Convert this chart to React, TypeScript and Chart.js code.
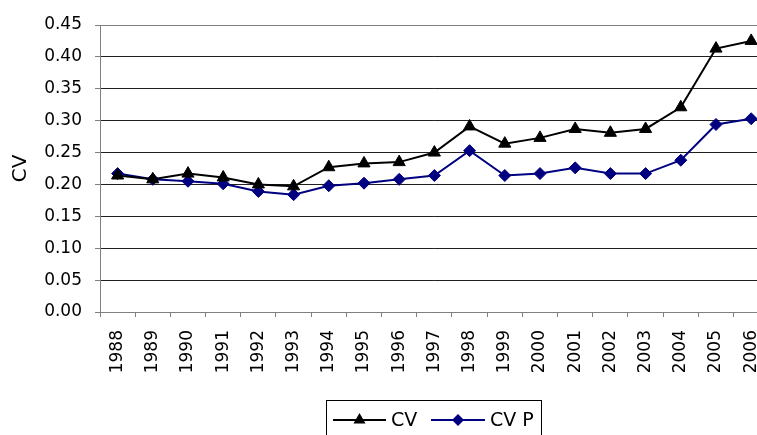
import React, { useEffect, useRef } from "react";
import { Chart, registerables } from "chart.js";

Chart.register(...registerables);

const years = [
  "1988", "1989", "1990", "1991", "1992", "1993", "1994", "1995", "1996", "1997",
  "1998", "1999", "2000", "2001", "2002", "2003", "2004", "2005", "2006",
];
const cvValues = [
  0.214, 0.208, 0.217, 0.211, 0.2, 0.197, 0.227, 0.233, 0.235, 0.25,
  0.291, 0.264, 0.273, 0.287, 0.281, 0.287, 0.321, 0.413, 0.425,
];
const cvpValues = [
  0.217, 0.208, 0.205, 0.201, 0.189, 0.184, 0.198, 0.202, 0.208, 0.214,
  0.253, 0.214, 0.217, 0.226, 0.217, 0.217, 0.238, 0.294, 0.303,
];
const seriesLabels = ["CV", "CV P"];
const yMin = 0;
const yMax = 0.45;
const yStep = 0.05;
const yTitle = "CV";

const FONT = "'DejaVu Sans', sans-serif";

function drawMarker(ctx: CanvasRenderingContext2D, style: string, x: number, y: number, r: number) {
  ctx.beginPath();
  if (style === "triangle") {
    ctx.moveTo(x, y - r);
    ctx.lineTo(x + r * 0.866, y + r / 2);
    ctx.lineTo(x - r * 0.866, y + r / 2);
  } else {
    ctx.moveTo(x - r, y);
    ctx.lineTo(x, y - r);
    ctx.lineTo(x + r, y);
    ctx.lineTo(x, y + r);
  }
  ctx.closePath();
  ctx.fill();
}

const boxLegend = {
  id: "boxLegend",
  afterDraw(chart: any) {
    const ctx: CanvasRenderingContext2D = chart.ctx;
    ctx.save();
    ctx.fillStyle = "#ffffff";
    ctx.fillRect(326.5, 400.5, 215, 40);
    ctx.strokeStyle = "#000000";
    ctx.lineWidth = 1;
    ctx.strokeRect(326.5, 400.5, 215, 40);
    const items = [
      { x0: 333, x1: 386, tx: 391 },
      { x0: 431, x1: 485, tx: 490 },
    ];
    const y = 420;
    chart.data.datasets.forEach((ds: any, i: number) => {
      const it = items[i];
      ctx.strokeStyle = ds.borderColor;
      ctx.lineWidth = 2;
      ctx.beginPath();
      ctx.moveTo(it.x0, y);
      ctx.lineTo(it.x1, y);
      ctx.stroke();
      ctx.fillStyle = ds.pointBackgroundColor;
      drawMarker(ctx, ds.pointStyle, (it.x0 + it.x1) / 2, y, ds.pointRadius);
      ctx.fillStyle = "#000000";
      ctx.font = `19px ${FONT}`;
      ctx.textBaseline = "middle";
      ctx.textAlign = "left";
      ctx.fillText(ds.label, it.tx, y + 1);
    });
    ctx.restore();
  },
};

export default function App() {
  const ref = useRef<HTMLCanvasElement | null>(null);

  useEffect(() => {
    if (!ref.current) return;
    const chart = new Chart(ref.current, {
      type: "line",
      data: {
        labels: years,
        datasets: [
          {
            label: seriesLabels[0],
            data: cvValues,
            borderColor: "#000000",
            borderWidth: 2,
            pointStyle: "triangle",
            pointRadius: 7,
            pointBackgroundColor: "#000000",
            pointBorderColor: "#000000",
            pointBorderWidth: 1,
            tension: 0,
          },
          {
            label: seriesLabels[1],
            data: cvpValues,
            borderColor: "#000080",
            borderWidth: 2,
            pointStyle: "rectRot",
            pointRadius: 6,
            pointBackgroundColor: "#000080",
            pointBorderColor: "#000080",
            pointBorderWidth: 1,
            tension: 0,
          },
        ],
      },
      options: {
        responsive: false,
        animation: false,
        devicePixelRatio: 1,
        layout: { padding: { left: 0, right: 16, top: 25, bottom: 0 } },
        plugins: {
          legend: { display: false },
          tooltip: { enabled: false },
        },
        scales: {
          x: {
            type: "category",
            offset: true,
            grid: {
              display: true,
              drawOnChartArea: false,
              drawTicks: true,
              tickLength: 5,
              color: "#808080",
              offset: true,
            },
            border: { display: true, color: "#808080", width: 1 },
            ticks: {
              autoSkip: false,
              maxRotation: 90,
              minRotation: 90,
              padding: 13,
              color: "#000000",
              font: { family: FONT, size: 17 },
            },
            afterFit: (scale: any) => {
              scale.height = 123;
            },
          },
          y: {
            min: yMin,
            max: yMax,
            grid: {
              color: (c: any) => (c.tick && Math.abs(c.tick.value - yMax) < 1e-9 ? "#808080" : "#202020"),
              tickColor: "#808080",
              tickLength: 5,
              drawTicks: true,
            },
            border: { display: true, color: "#808080", width: 1 },
            ticks: {
              stepSize: yStep,
              padding: 13,
              color: "#000000",
              font: { family: FONT, size: 17 },
              callback: (v: any) => Number(v).toFixed(2),
            },
            title: {
              display: true,
              text: yTitle,
              color: "#000000",
              font: { family: FONT, size: 20 },
              padding: { top: 9, bottom: 0 },
            },
            afterFit: (scale: any) => {
              scale.width = 100;
            },
          },
        },
      },
      plugins: [boxLegend],
    });
    return () => chart.destroy();
  }, []);

  return (
    <div
      style={{
        position: "fixed",
        left: 0,
        top: 0,
        width: 757,
        height: 435,
        overflow: "hidden",
        background: "#ffffff",
      }}
    >
      <canvas ref={ref} width={785} height={435} style={{ width: 785, height: 435, display: "block" }} />
    </div>
  );
}
